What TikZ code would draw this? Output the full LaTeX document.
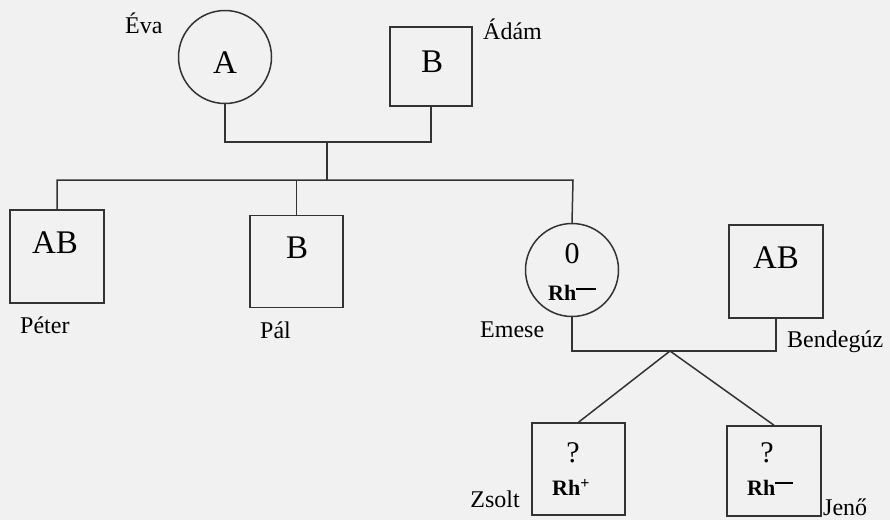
\documentclass[tikz,border=0pt]{standalone}
\usepackage{fontspec}
\setmainfont{Liberation Serif}
\begin{document}
\begin{tikzpicture}[x=1pt,y=-1pt,
  ln/.style={draw=black!80,line width=1.5pt},
  fem/.style={ln,circle,minimum size=93pt,inner sep=0pt},
  male/.style={ln,rectangle,minimum width=93pt,minimum height=92pt,inner sep=0pt},
  nm/.style={font=\fontsize{24}{24}\selectfont,inner sep=0pt},
  big/.style={font=\fontsize{33}{33}\selectfont,inner sep=0pt,anchor=base},
  qm/.style={font=\fontsize{30}{30}\selectfont,inner sep=0pt,anchor=base},
  rh/.style={font=\fontsize{22}{22}\selectfont\bfseries,inner sep=0pt,anchor=base west}]
\fill[color={rgb,255:red,242;green,241;blue,242}] (0,0) rectangle (890,520);
\useasboundingbox (0,0) rectangle (890,520);
% persons
\node[fem] (eva) at (225,57) {};
\node[male,minimum width=82pt,minimum height=79pt] (adam) at (431,66.5) {};
\node[male,minimum width=94pt,minimum height=93pt] (peter) at (57,256.5) {};
\node[male] (pal) at (296.5,261.5) {};
\node[fem] (emese) at (572,270) {};
\node[male,minimum width=94pt,minimum height=93pt] (bend) at (776,271.5) {};
\node[male] (zsolt) at (578.5,469) {};
\node[male,minimum width=94pt,minimum height=90pt] (jeno) at (774,471) {};
% inner texts
\node[big] (tA) at (225,73) {A};
\node[big] (tB) at (432,72) {B};
\node[big] (tAB1) at (55,253) {AB};
\node[big] (tB2) at (297,258) {B};
\node[qm] (t0) at (572,263) {0};
\node[rh] (rhE) at (548,300) {Rh\raisebox{10pt}{\rule{20pt}{1.8pt}}};
\node[big] (tAB2) at (776,268) {AB};
\node[qm] (q1) at (573,462) {?};
\node[rh] (rhZ) at (552,495) {Rh\raisebox{7pt}{\fontsize{16}{16}\selectfont +}};
\node[qm] (q2) at (767,462) {?};
\node[rh] (rhJ) at (747,495) {Rh\raisebox{11pt}{\rule{18pt}{2.4pt}}};
% names
\node[nm,anchor=base west] (nEva) at (125,33) {Éva};
\node[nm,anchor=base west] (nAdam) at (483,39) {Ádám};
\node[nm,anchor=base west] (nPeter) at (20,333) {Péter};
\node[nm,anchor=base west] (nPal) at (260,338) {Pál};
\node[nm,anchor=base west] (nEmese) at (480,337) {Emese};
\node[nm,anchor=base west] (nBend) at (787,347) {Bendegúz};
\node[nm,anchor=base east] (nZsolt) at (520,507) {Zsolt};
\node[nm,anchor=base west] (nJeno) at (823,515) {Jenő};
% connectors
\coordinate (c1) at (327,142);
\coordinate (s1) at (327,180);
\coordinate (sL) at (57,180);
\coordinate (sR) at (573,180);
\coordinate (c2) at (670,351);
\draw[ln] (eva.south) |- (c1) -| (adam.south);
\draw[ln] (c1) -- (s1);
\draw[ln] (peter.north) -- (sL) -- (sR) -- (emese.north);
\draw[ln] (pal.north) -- (pal.north |- sL);
\draw[ln] (emese.south) |- (c2) -| (bend.south);
\draw[ln] (zsolt.north) -- (c2) -- (jeno.north);
\end{tikzpicture}
\end{document}
